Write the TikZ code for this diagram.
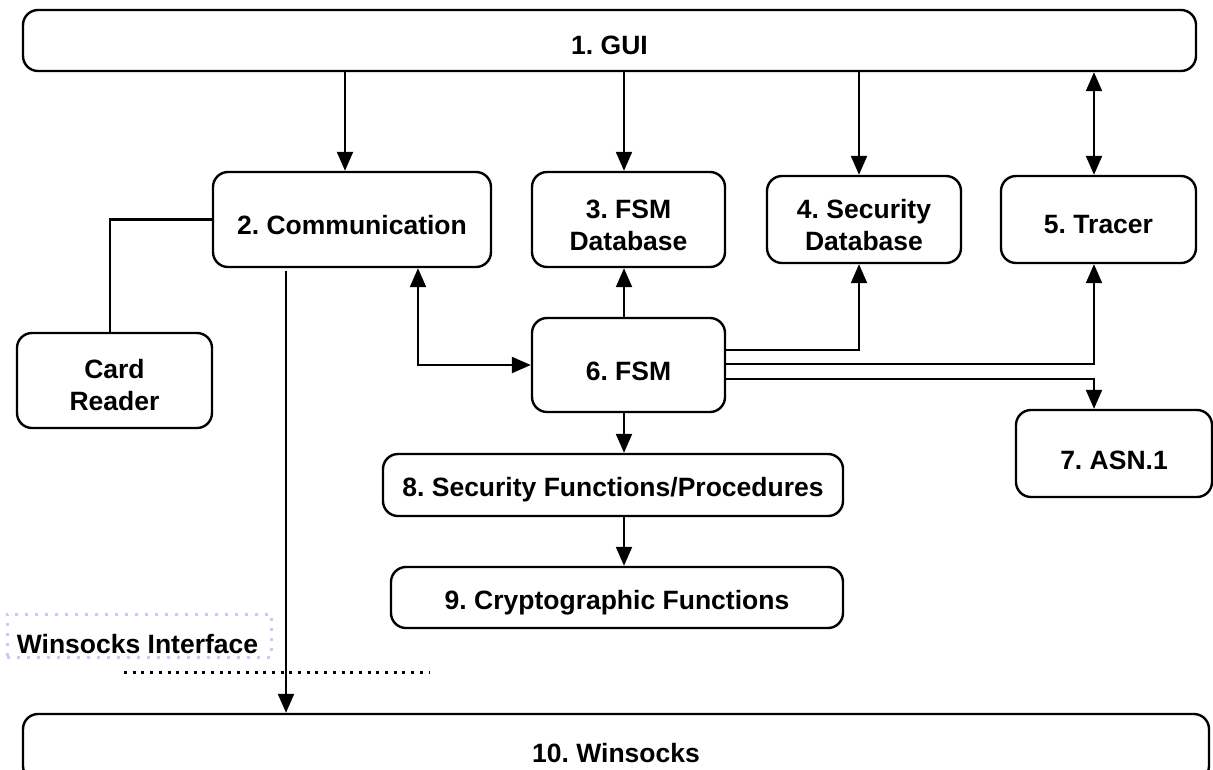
\documentclass[tikz,border=0pt]{standalone}
\usepackage{fontspec}
\setmainfont{Liberation Sans}
\usetikzlibrary{arrows.meta}
\definecolor{lavender}{RGB}{200,200,252}
\frenchspacing

\begin{document}
\begin{tikzpicture}[x=1pt,y=-1pt,
  box/.style={draw, line width=2.4pt, rounded corners=15pt, inner sep=0pt},
  lbl/.style={font=\bfseries\fontsize{26.5}{32}\selectfont, align=center, inner sep=0pt},
  wire/.style={line width=2.2pt},
  tip/.tip={Triangle[length=19pt,width=16pt]},
  arr/.style={wire, -tip},
  biarr/.style={wire, tip-tip},
]
\useasboundingbox (0,0) rectangle (1213,769);
\clip (0,0) rectangle (1213,769);

% modules
\node[box, minimum width=1173pt, minimum height=61pt,
  label={[lbl,yshift=-5pt]center:1. GUI}] (gui) at (609.5,40.5) {};
\node[box, minimum width=278pt, minimum height=95pt,
  label={[lbl,yshift=-5.5pt]center:2. Communication}] (comm) at (352,219.5) {};
\node[box, minimum width=193pt, minimum height=95pt,
  label={[lbl,yshift=-6pt]center:3. FSM\\Database}] (fsmdb) at (628.5,219.5) {};
\node[box, minimum width=194pt, minimum height=87pt,
  label={[lbl,yshift=-5.5pt]center:4. Security\\Database}] (secdb) at (864,219.5) {};
\node[box, minimum width=195pt, minimum height=87pt,
  label={[lbl,yshift=-5.5pt]center:5. Tracer}] (tracer) at (1098.5,219.5) {};
\node[box, minimum width=195pt, minimum height=95pt,
  label={[lbl,yshift=-5pt]center:Card\\Reader}] (card) at (114.5,380.5) {};
\node[box, minimum width=193pt, minimum height=94pt,
  label={[lbl,yshift=-6.5pt]center:6. FSM}] (fsm) at (628.5,365) {};
\node[box, minimum width=196pt, minimum height=87pt,
  label={[lbl,yshift=-7pt]center:7. ASN.1}] (asn) at (1114,453.5) {};
\node[box, minimum width=460pt, minimum height=62pt,
  label={[lbl,yshift=-5pt]center:8. Security Functions/Procedures}] (secfn) at (613,485) {};
\node[box, minimum width=452pt, minimum height=61pt,
  label={[lbl,yshift=-5.5pt]center:9. Cryptographic Functions}] (crypto) at (617,597.5) {};
\node[box, minimum width=1186pt, minimum height=67pt,
  label={[lbl,yshift=-5.5pt]center:10. Winsocks}] (winsock) at (616,747.5) {};

% interface marker
\node[draw=lavender, line width=3pt, dash pattern=on 3pt off 7pt,
  minimum width=264pt, minimum height=43pt, inner sep=0pt,
  label={[lbl,yshift=-8.5pt,xshift=-1.5pt]center:Winsocks Interface}] (wiface) at (139,635.5) {};
\coordinate (dl) at (124,672);
\coordinate (dr) at (430,672);
\draw[line width=3pt, dash pattern=on 3pt off 5.7pt] (dl) -- (dr);

% connector columns and rows
\coordinate (xcard) at (110,0);
\coordinate (xwin) at (286,0);
\coordinate (xcomm) at (345,0);
\coordinate (xbi) at (418,0);
\coordinate (xmid) at (624,0);
\coordinate (xsec) at (859,0);
\coordinate (xtr) at (1094,0);
\coordinate (ysec) at (0,350);
\coordinate (ytr) at (0,364);
\coordinate (yasn) at (0,379);

% GUI links
\draw[arr] (gui.south -| xcomm) -- (comm.north -| xcomm);
\draw[arr] (gui.south -| xmid) -- (fsmdb.north -| xmid);
\draw[arr] (gui.south -| xsec) -- (secdb.north -| xsec);
\draw[biarr] (gui.south -| xtr) -- (tracer.north -| xtr);

% communication links
\draw[wire] (card.north -| xcard) |- (comm.west);
\draw[biarr] (comm.south -| xbi) |- (fsm.west);
\draw[arr] ([yshift=-3pt]comm.south -| xwin) -- (winsock.north -| xwin);

% FSM links
\draw[arr] (fsm.north -| xmid) -- (fsmdb.south -| xmid);
\draw[arr] (fsm.east |- ysec) -| (secdb.south -| xsec);
\draw[arr] (fsm.east |- ytr) -| (tracer.south -| xtr);
\draw[arr] (fsm.east |- yasn) -| (asn.north -| xtr);
\draw[arr] (fsm.south -| xmid) -- (secfn.north -| xmid);
\draw[arr] (secfn.south -| xmid) -- (crypto.north -| xmid);
\end{tikzpicture}
\end{document}
